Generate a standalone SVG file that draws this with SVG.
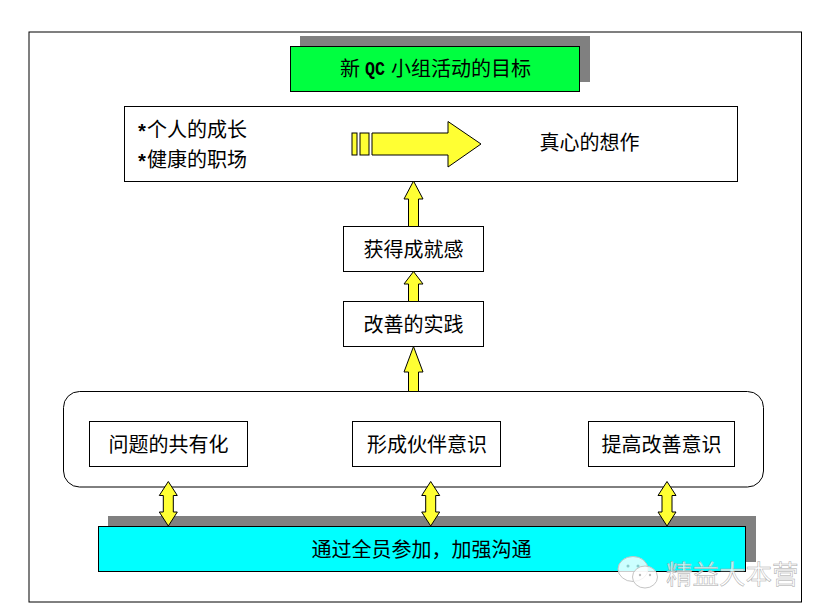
<svg xmlns="http://www.w3.org/2000/svg" width="825" height="616" viewBox="0 0 825 616">
<style>
text{font-family:"Noto Sans CJK SC","Noto Sans",sans-serif;font-size:20px;fill:#000}
.c{text-anchor:middle}
.b{fill:#fff;stroke:#000;stroke-width:1}
.s{fill:#808080}
.a{fill:#ffff33;stroke:#000;stroke-width:1;stroke-linejoin:miter}
.q{font-family:"Liberation Mono",monospace;font-size:20px;font-weight:bold}
.m{font-family:"Liberation Mono",monospace;font-size:20px;font-weight:bold}
.w{font-size:26.500px;fill:#fff;fill-opacity:.75;stroke:#a8a8a8;stroke-width:.5}
.l{fill:#fff;fill-opacity:.8;stroke:#c4c4c4;stroke-width:1}
</style>
<rect width="825" height="616" fill="#fff"/>
<rect id="frame" x="29" y="32" width="772.500" height="570" fill="#fff" stroke="#000"/>
<g id="goal">
<rect class="s" x="300" y="36" width="290" height="46"/>
<rect x="290.500" y="46.500" width="289" height="45" fill="#00ff40" stroke="#000"/>
<text x="340" y="76">新</text>
<text class="q" x="365" y="75" textLength="20" lengthAdjust="spacingAndGlyphs">QC</text>
<text x="391" y="76">小组活动的目标</text>
</g>
<g id="outcome">
<rect class="b" x="124.500" y="106.500" width="613" height="75"/>
<text x="136" y="139"><tspan class="m">*</tspan><tspan x="147" y="137">个人的成长</tspan></text>
<text x="136" y="169"><tspan class="m">*</tspan><tspan x="147" y="167">健康的职场</tspan></text>
<text x="539.500" y="150">真心的想作</text>
</g>
<g id="achievement">
<rect class="b" x="343.500" y="226.500" width="140" height="45"/>
<text class="c" x="413.500" y="257">获得成就感</text>
</g>
<g id="practice">
<rect class="b" x="343.500" y="301.500" width="140" height="45"/>
<text class="c" x="413.500" y="332">改善的实践</text>
</g>
<g id="foundation">
<rect class="b" x="63.500" y="391.500" width="700" height="95.500" rx="16" ry="16"/>
</g>
<g id="shared-problems">
<rect class="b" x="89.500" y="421.500" width="158" height="45"/>
<text class="c" x="168.500" y="452">问题的共有化</text>
</g>
<g id="partnership">
<rect class="b" x="352.500" y="421.500" width="148" height="45"/>
<text class="c" x="427" y="452">形成伙伴意识</text>
</g>
<g id="awareness">
<rect class="b" x="588.500" y="421.500" width="146" height="45"/>
<text class="c" x="661.500" y="452">提高改善意识</text>
</g>
<g id="participation">
<rect class="s" x="108" y="516" width="648" height="46"/>
<rect x="98.500" y="526.500" width="647" height="45" fill="#00ffff" stroke="#000"/>
<text x="311.500" y="557">通过全员参加，加强沟通</text>
</g>
<g id="connectors">
<rect class="a" x="352" y="133" width="5" height="22"/>
<rect class="a" x="360" y="133" width="9" height="22"/>
<path class="a" d="M372 133H448V121.500L481 144L448 167V155H372Z"/>
<path class="a" d="M413.500 181L423 199H418.500V226.500H408.500V199H404Z"/>
<path class="a" d="M413.500 271.500L423 284H418.500V301.500H408.500V284H404Z"/>
<path class="a" d="M413.500 346.500L423 372H418.500V391.500H408.500V372H404Z"/>
<path class="a" d="M168.300 481.500L177.300 495.500H173.300V512H177.300L168.300 526L159.300 512H163.300V495.500H159.300Z"/>
<path class="a" d="M430.700 481.500L439.700 495.500H435.700V512H439.700L430.700 526L421.700 512H425.700V495.500H421.700Z"/>
<path class="a" d="M667 481.500L676 495.500H672V512H676L667 526L658 512H662V495.500H658Z"/>
</g>
<g id="watermark">
<ellipse class="l" cx="633" cy="569" rx="15" ry="12.500"/>
<ellipse class="l" cx="645" cy="577" rx="12.500" ry="11"/>
<circle cx="628" cy="566" r="1.500" fill="#8cc"/>
<circle cx="638" cy="566" r="1.500" fill="#8cc"/>
<circle cx="640" cy="575" r="1.200" fill="#bbb"/>
<circle cx="650" cy="575" r="1.200" fill="#bbb"/>
<text class="w" x="666" y="584">精益大本营</text>
</g>
</svg>
